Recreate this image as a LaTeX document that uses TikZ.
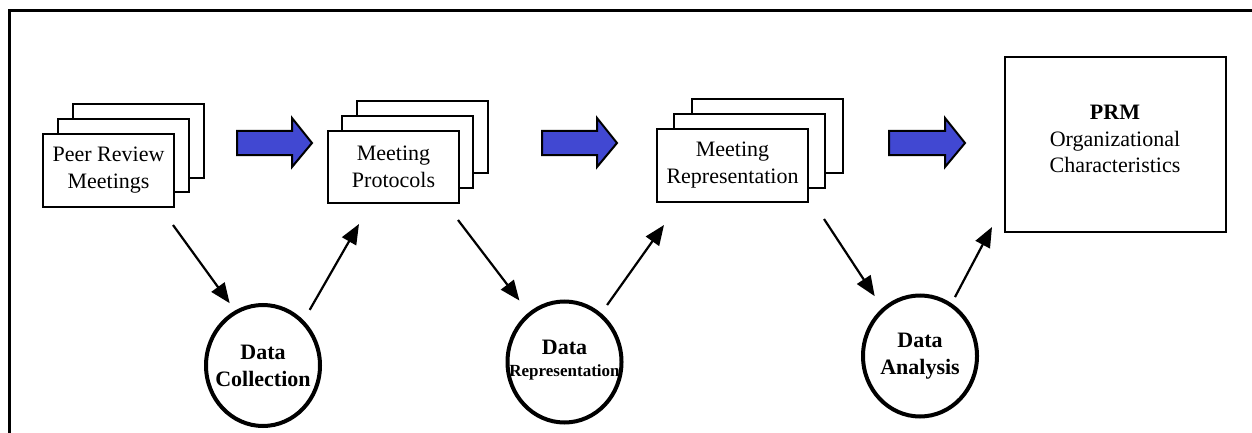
\documentclass[tikz,border=0pt]{standalone}
\usepackage{fontspec}
\setmainfont{Liberation Serif}
\usetikzlibrary{arrows.meta,shapes.geometric,calc}
\definecolor{arrowblue}{RGB}{65,72,210}
\begin{document}
\begin{tikzpicture}[x=1pt,y=-1pt,
  doc/.style={draw,fill=white,line width=2pt,minimum width=131pt,minimum height=73pt,inner sep=0pt,align=center,font=\fontsize{22}{27}\selectfont},
  proc/.style={ellipse,draw,line width=4pt,minimum width=114pt,minimum height=121pt,inner sep=0pt},
  proctext/.style={align=center,inner sep=0pt,font=\bfseries\fontsize{22}{27}\selectfont},
  flow/.style={draw=black,fill=arrowblue,line width=2pt,line join=miter},
  link/.style={line width=2.2pt,-{Triangle[length=20pt,width=16pt]}}]
\clip (0,0) rectangle (1252,433);
\draw[line width=3pt] (9.5,10.5) rectangle (1280,460);

% stack 1
\node[doc] (s1c) at (138.5,141) {};
\node[doc] (s1b) at (123.5,155.5) {};
\node[doc] (s1) at (108.5,170.5) {Peer Review\\Meetings};
% stack 2
\node[doc,minimum height=72pt] (s2c) at (422.5,137) {};
\node[doc,minimum height=72pt] (s2b) at (407.5,152) {};
\node[doc,minimum height=72pt] (s2) at (393.5,167) {Meeting\\Protocols};
% stack 3
\node[doc,minimum width=151pt] (s3c) at (767,136) {};
\node[doc,minimum width=151pt] (s3b) at (749.5,151) {};
\node[doc,minimum width=151pt] (s3) at (732.5,165.5) {Meeting\\Representation};
% result box
\node[draw,line width=2pt,minimum width=221pt,minimum height=175pt,inner sep=0pt] (prm) at (1115.5,144.5) {};
\node[align=center,inner sep=0pt,font=\fontsize{22}{26.5}\selectfont] (prmtext) at (1115,139) {\textbf{PRM}\\Organizational\\Characteristics};

% processes
\node[proc] (c1) at (263,365.5) {};
\node[proctext] (t1) at (c1.center) {Data\\Collection};
\node[proc] (c2) at (564.5,362) {};
\node[proctext] (t2) at (564.5,360) {Data\\[-5pt]{\fontsize{17}{22}\selectfont Representation}};
\node[proc] (c3) at (920,356) {};
\node[proctext] (t3) at (c3.center) {Data\\Analysis};

% blue flow arrows
\draw[flow] (237,131) -- (292,131) -- (292,118) -- (312,143) -- (292,167) -- (292,155) -- (237,155) -- cycle;
\draw[flow] (542,131) -- (597,131) -- (597,118) -- (617,143) -- (597,167) -- (597,155) -- (542,155) -- cycle;
\draw[flow] (889,131) -- (945,131) -- (945,118) -- (965,143) -- (945,167) -- (945,155) -- (889,155) -- cycle;

% connectors
\coordinate (a1) at ($(s1.south east)+(-2,17)$);
\coordinate (b1) at ($(s2.south west)+(32,20)$);
\coordinate (a2) at ($(s2.south east)+(-2,16)$);
\coordinate (b2) at ($(s3.south west)+(8,22)$);
\coordinate (a3) at ($(s3.south east)+(15,16)$);
\coordinate (b3) at ($(prm.south west)+(-12,-6)$);
\draw[link,shorten >=9pt] (a1) -- (c1.117);
\draw[link,shorten <=12pt] (c1.48) -- (b1);
\draw[link,shorten >=15pt] (a2) -- (c2.126);
\draw[link,shorten <=10pt] (c2.53) -- (b2);
\draw[link,shorten >=14pt] (a3) -- (c3.128);
\draw[link,shorten <=7pt] (c3.59) -- (b3);
\end{tikzpicture}
\end{document}
